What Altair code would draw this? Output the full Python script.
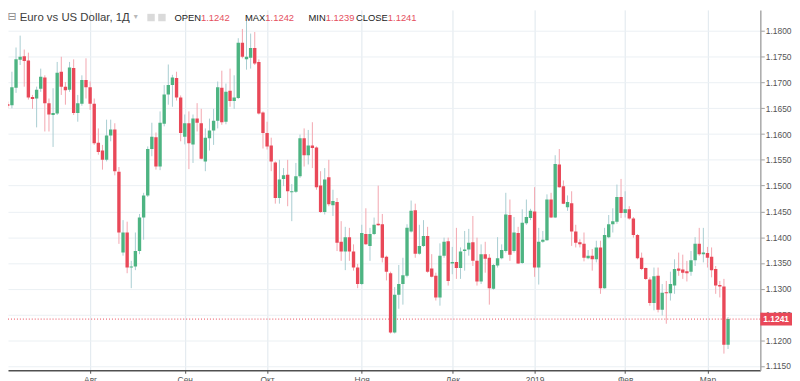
import altair as alt
import pandas as pd

# ---------------- data ----------------
opens = [1.1658,1.1656,1.1690,1.1744,1.1751,1.1743,1.1672,1.1669,1.1688,1.1710,
1.1660,1.1637,1.1640,1.1721,1.1692,1.1686,1.1728,1.1641,1.1659,1.1705,
1.1691,1.1659,1.1583,1.1568,1.1550,1.1597,1.1609,1.1527,1.1370,1.1409,
1.1341,1.1343,1.1373,1.1438,1.1481,1.1571,1.1594,1.1537,1.1620,1.1677,
1.1695,1.1709,1.1671,1.1595,1.1621,1.1580,1.1630,1.1621,1.1547,1.1592,
1.1607,1.1626,1.1690,1.1624,1.1684,1.1664,1.1670,1.1777,1.1745,1.1748,
1.1767,1.1740,1.1642,1.1602,1.1578,1.1545,1.1476,1.1513,1.1521,1.1487,
1.1488,1.1518,1.1592,1.1559,1.1578,1.1574,1.1500,1.1449,1.1516,1.1462,
1.1468,1.1391,1.1372,1.1400,1.1372,1.1341,1.1309,1.1406,1.1383,1.1406,
1.1426,1.1425,1.1362,1.1330,1.1215,1.1288,1.1309,1.1325,1.1411,1.1452,
1.1368,1.1383,1.1402,1.1339,1.1325,1.1283,1.1364,1.1392,1.1349,1.1352,
1.1340,1.1373,1.1376,1.1390,1.1354,1.1314,1.1367,1.1360,1.1300,1.1345,
1.1359,1.1373,1.1443,1.1373,1.1408,1.1350,1.1427,1.1437,1.1450,1.1341,
1.1391,1.1394,1.1473,1.1438,1.1541,1.1499,1.1458,1.1466,1.1411,1.1390,
1.1387,1.1359,1.1364,1.1357,1.1380,1.1301,1.1400,1.1425,1.1430,1.1478,
1.1447,1.1454,1.1436,1.1404,1.1360,1.1340,1.1318,1.1272,1.1325,1.1259,
1.1293,1.1291,1.1306,1.1339,1.1337,1.1334,1.1333,1.1355,1.1387,1.1367,
1.1369,1.1362,1.1338,1.1307,1.1304,1.1191]

closes = [1.1655,1.1691,1.1745,1.1750,1.1742,1.1671,1.1668,1.1686,1.1711,1.1660,
1.1638,1.1641,1.1719,1.1692,1.1685,1.1729,1.1641,1.1660,1.1705,1.1691,
1.1659,1.1582,1.1565,1.1550,1.1597,1.1609,1.1528,1.1409,1.1409,1.1341,
1.1343,1.1373,1.1438,1.1481,1.1571,1.1595,1.1537,1.1622,1.1677,1.1695,
1.1710,1.1671,1.1602,1.1621,1.1582,1.1630,1.1622,1.1552,1.1593,1.1607,
1.1626,1.1691,1.1623,1.1682,1.1664,1.1671,1.1777,1.1750,1.1750,1.1767,
1.1737,1.1640,1.1602,1.1576,1.1547,1.1476,1.1512,1.1520,1.1489,1.1489,
1.1518,1.1592,1.1559,1.1578,1.1573,1.1497,1.1449,1.1512,1.1464,1.1470,
1.1389,1.1372,1.1400,1.1372,1.1341,1.1309,1.1408,1.1386,1.1406,1.1424,
1.1423,1.1360,1.1333,1.1215,1.1288,1.1309,1.1326,1.1418,1.1451,1.1368,
1.1383,1.1402,1.1333,1.1323,1.1283,1.1364,1.1391,1.1315,1.1352,1.1340,
1.1372,1.1376,1.1389,1.1354,1.1314,1.1367,1.1358,1.1301,1.1346,1.1359,
1.1375,1.1444,1.1366,1.1409,1.1349,1.1428,1.1439,1.1451,1.1341,1.1391,
1.1395,1.1473,1.1438,1.1542,1.1497,1.1465,1.1468,1.1411,1.1389,1.1386,
1.1360,1.1364,1.1357,1.1380,1.1301,1.1404,1.1425,1.1431,1.1478,1.1447,
1.1454,1.1436,1.1404,1.1359,1.1338,1.1319,1.1272,1.1324,1.1259,1.1292,
1.1291,1.1309,1.1338,1.1335,1.1331,1.1330,1.1355,1.1387,1.1367,1.1370,
1.1360,1.1336,1.1306,1.1304,1.1191,1.1241]

highs = [1.1663,1.1721,1.1768,1.1791,1.1764,1.1758,1.1676,1.1692,1.1727,1.1714,
1.1669,1.1689,1.1740,1.1750,1.1701,1.1740,1.1745,1.1676,1.1714,1.1747,
1.1702,1.1669,1.1611,1.1579,1.1628,1.1628,1.1621,1.1536,1.1433,1.1430,
1.1354,1.1409,1.1445,1.1486,1.1576,1.1622,1.1603,1.1644,1.1695,1.1735,
1.1715,1.1721,1.1675,1.1638,1.1644,1.1638,1.1660,1.1649,1.1611,1.1630,
1.1649,1.1702,1.1723,1.1698,1.1727,1.1714,1.1786,1.1804,1.1822,1.1795,
1.1798,1.1745,1.1644,1.1624,1.1593,1.1547,1.1550,1.1534,1.1550,1.1503,
1.1544,1.1599,1.1611,1.1608,1.1623,1.1576,1.1528,1.1534,1.1550,1.1492,
1.1476,1.1431,1.1420,1.1418,1.1386,1.1348,1.1424,1.1456,1.1418,1.1438,
1.1500,1.1445,1.1364,1.1333,1.1303,1.1346,1.1360,1.1425,1.1471,1.1465,
1.1424,1.1433,1.1420,1.1367,1.1331,1.1388,1.1399,1.1399,1.1381,1.1418,
1.1380,1.1412,1.1416,1.1441,1.1399,1.1386,1.1391,1.1367,1.1348,1.1400,
1.1386,1.1486,1.1473,1.1439,1.1420,1.1454,1.1473,1.1455,1.1497,1.1418,
1.1412,1.1483,1.1486,1.1559,1.1571,1.1510,1.1481,1.1489,1.1424,1.1396,
1.1409,1.1375,1.1377,1.1393,1.1393,1.1418,1.1443,1.1456,1.1502,1.1513,
1.1489,1.1460,1.1439,1.1406,1.1370,1.1341,1.1322,1.1341,1.1341,1.1309,
1.1315,1.1333,1.1357,1.1370,1.1366,1.1354,1.1373,1.1400,1.1418,1.1418,
1.1381,1.1380,1.1344,1.1315,1.1319,1.1245]

lows = [1.1650,1.1650,1.1680,1.1734,1.1692,1.1667,1.1649,1.1613,1.1682,1.1605,
1.1605,1.1575,1.1637,1.1676,1.1657,1.1682,1.1637,1.1624,1.1655,1.1669,
1.1647,1.1579,1.1560,1.1531,1.1547,1.1586,1.1520,1.1387,1.1364,1.1330,
1.1301,1.1336,1.1367,1.1395,1.1478,1.1557,1.1531,1.1530,1.1615,1.1657,
1.1653,1.1665,1.1586,1.1580,1.1532,1.1544,1.1605,1.1551,1.1528,1.1568,
1.1579,1.1611,1.1618,1.1619,1.1653,1.1649,1.1668,1.1747,1.1725,1.1727,
1.1734,1.1638,1.1572,1.1570,1.1528,1.1465,1.1465,1.1499,1.1460,1.1431,
1.1486,1.1515,1.1537,1.1541,1.1534,1.1492,1.1447,1.1444,1.1460,1.1441,
1.1373,1.1354,1.1336,1.1354,1.1335,1.1301,1.1307,1.1385,1.1354,1.1404,
1.1422,1.1351,1.1316,1.1213,1.1213,1.1261,1.1269,1.1322,1.1409,1.1360,
1.1366,1.1381,1.1331,1.1322,1.1277,1.1267,1.1360,1.1306,1.1328,1.1319,
1.1319,1.1335,1.1364,1.1344,1.1306,1.1309,1.1331,1.1269,1.1298,1.1341,
1.1357,1.1370,1.1354,1.1370,1.1348,1.1348,1.1424,1.1433,1.1323,1.1308,
1.1389,1.1393,1.1437,1.1437,1.1496,1.1464,1.1451,1.1383,1.1380,1.1380,
1.1353,1.1357,1.1335,1.1351,1.1290,1.1300,1.1398,1.1409,1.1426,1.1437,
1.1438,1.1434,1.1399,1.1357,1.1336,1.1317,1.1267,1.1258,1.1254,1.1248,
1.1232,1.1277,1.1290,1.1325,1.1319,1.1314,1.1325,1.1344,1.1364,1.1351,
1.1341,1.1322,1.1290,1.1283,1.1174,1.1183]

# first trading day of each month (position in the candle sequence) and labels
month_ticks = [20, 43, 63, 86, 108, 128, 150, 170]
month_labels = ["Авг", "Сен", "Окт", "Ноя", "Дек", "2019", "Фев", "Мар"]
price_ticks = [1.115, 1.120, 1.125, 1.130, 1.135, 1.140, 1.145, 1.150,
               1.155, 1.160, 1.165, 1.170, 1.175, 1.180]
last_price = 1.1241
last_price_text = "1.1241"
header_title = "Euro vs US Dollar, 1Д"
ohlc_names = ["OPEN", "MAX", "MIN", "CLOSE"]
ohlc_values = ["1.1242", "1.1242", "1.1239", "1.1241"]

# ---------------- styling ----------------
GREEN_BODY = "#4db482"
RED_BODY = "#e94858"
GREEN_WICK = "#a9cdd1"
RED_WICK = "#f3a6af"
RED = "#e94858"
FONT = "Liberation Sans"

W, H = 760, 364

df = pd.DataFrame({
    "i": list(range(len(opens))),
    "open": opens, "high": highs, "low": lows, "close": closes,
})
df["dir"] = ["up" if c >= o else "down" for o, c in zip(opens, closes)]

x_scale = alt.Scale(domain=[1.251, 181.64], nice=False, zero=False)
y_scale = alt.Scale(domain=[1.114172, 1.184091], nice=False, zero=False)

label_expr = ("[" + ",".join("'%s'" % s for s in month_labels) + "][indexof(["
              + ",".join(str(v) for v in month_ticks) + "], datum.value)]")

x_axis = alt.Axis(values=month_ticks, labelExpr=label_expr, title=None,
                  grid=True, gridColor="#dfe7ed", gridWidth=1,
                  domain=True, domainColor="#505050", domainWidth=1.3,
                  ticks=True, tickColor="#505050", tickSize=3,
                  labelColor="#555555", labelFont=FONT, labelFontSize=8.5,
                  labelPadding=2, labelBaseline="top", labelOverlap=False,
                  labelFlush=False)
y_axis = alt.Axis(orient="right", values=price_ticks, format=".4f", title=None,
                  grid=True, gridColor="#ebf0f4", gridWidth=1,
                  domain=True, domainColor="#a8a8a8", domainWidth=1.5,
                  ticks=True, tickColor="#a0a0a0", tickSize=4,
                  labelColor="#555555", labelFont=FONT, labelFontSize=8.5,
                  labelPadding=1, labelOverlap=False, labelFlush=False)

base = alt.Chart(df)
wicks = base.mark_rule(strokeWidth=1, clip=True).encode(
    x=alt.X("i:Q", scale=x_scale, axis=x_axis),
    y=alt.Y("low:Q", scale=y_scale, axis=y_axis),
    y2="high:Q",
    color=alt.condition("datum.dir == 'up'", alt.value(GREEN_WICK), alt.value(RED_WICK)),
)
bodies = base.mark_bar(size=3.4, clip=True).encode(
    x=alt.X("i:Q", scale=x_scale, axis=x_axis),
    y=alt.Y("open:Q", scale=y_scale, axis=y_axis),
    y2="close:Q",
    color=alt.condition("datum.dir == 'up'", alt.value(GREEN_BODY), alt.value(RED_BODY)),
)

one = pd.DataFrame({"k": [0]})
price_line = alt.Chart(one).mark_rule(color=RED, strokeDash=[1, 2], strokeWidth=1).encode(
    x=alt.value(0), x2=alt.value(W),
    y=alt.YDatum(last_price, scale=y_scale, axis=y_axis),
)
price_box = alt.Chart(one).mark_point(
    shape="M-1,-0.406H1V0.406H-1Z", size=1024, filled=True, opacity=1,
    color=RED, strokeWidth=0,
).encode(x=alt.value(776), y=alt.YDatum(last_price, scale=y_scale, axis=y_axis))
price_text = alt.Chart(one).mark_text(
    text=last_price_text, color="white", font=FONT, fontSize=8.5, fontWeight="bold",
    align="center", baseline="middle",
).encode(x=alt.value(776), y=alt.YDatum(last_price, scale=y_scale, axis=y_axis))

header = [
    alt.Chart(one).mark_text(text="⊟", color="#8a8a8a", fontSize=11, font="DejaVu Sans",
                             align="center", baseline="middle").encode(
        x=alt.value(4), y=alt.value(7.5)),
    alt.Chart(one).mark_text(text=header_title, color="#3d3d3d", fontSize=11.5, font=FONT,
                             align="left", baseline="alphabetic").encode(
        x=alt.value(11.8), y=alt.value(11.5)),
    alt.Chart(one).mark_text(text="▾", color="#b8b8b8", fontSize=8, font="DejaVu Sans",
                             align="center", baseline="middle").encode(
        x=alt.value(129), y=alt.value(7.5)),
    alt.Chart(one).mark_square(size=56, color="#dadada", opacity=1).encode(
        x=alt.value(144.5), y=alt.value(7.7)),
    alt.Chart(one).mark_square(size=56, color="#dadada", opacity=1).encode(
        x=alt.value(155.5), y=alt.value(7.7)),
]
value_x = [195, 260, 321, 383.7]
for name, val, vx in zip(ohlc_names, ohlc_values, value_x):
    header.append(alt.Chart(one).mark_text(text=name, color="#222222", fontSize=9.5, font=FONT,
                                           align="right", baseline="alphabetic").encode(
        x=alt.value(vx), y=alt.value(11.5)))
    header.append(alt.Chart(one).mark_text(text=val, color="#e5505e", fontSize=9.5, font=FONT,
                                           align="left", baseline="alphabetic").encode(
        x=alt.value(vx), y=alt.value(11.5)))

chart = alt.layer(wicks, bodies, price_line, price_box, price_text, *header).properties(
    width=W, height=H,
    autosize=alt.AutoSizeParams(type="none"),
    padding={"left": 0, "top": 0, "right": 32, "bottom": 17},
    background="white",
).configure_view(strokeWidth=0)

chart.save("out.html", embed_options={"renderer": "svg", "actions": False})
